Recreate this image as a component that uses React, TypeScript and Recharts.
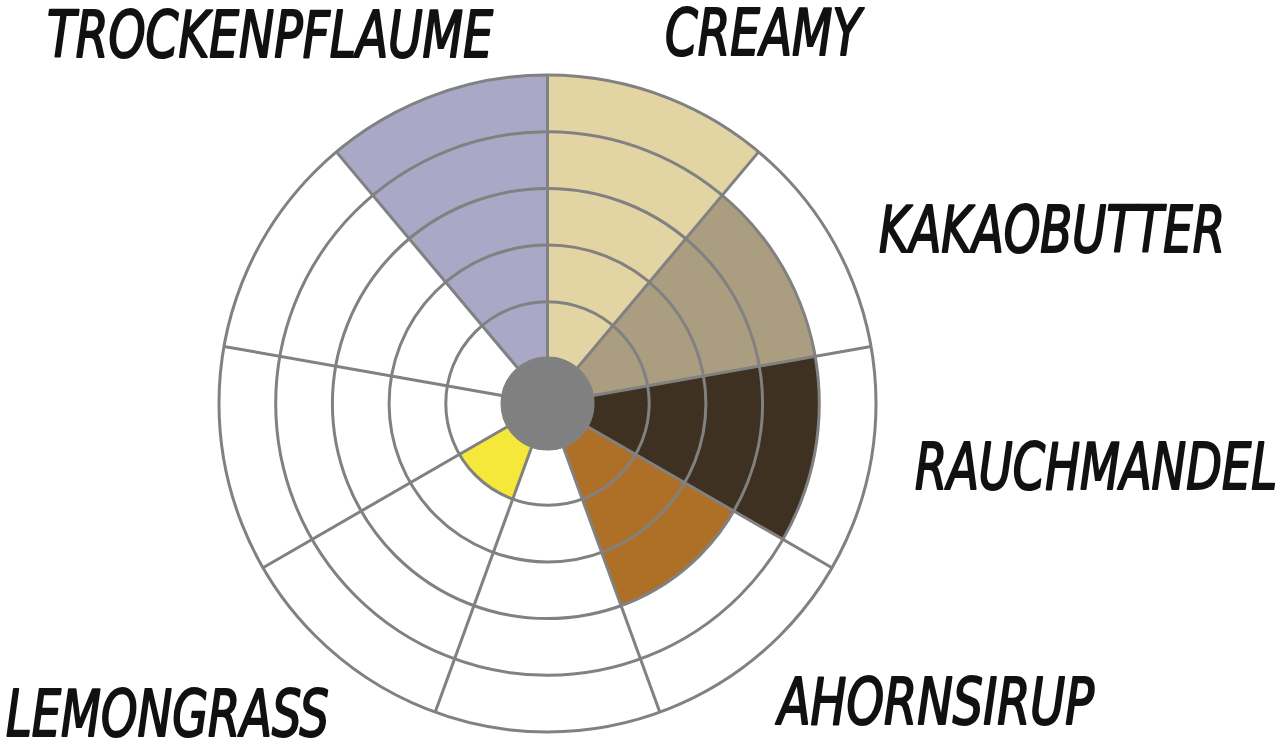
import React from 'react';
import {
  RadialBarChart,
  RadialBar,
  PolarAngleAxis,
  PolarRadiusAxis,
  PolarGrid,
  Cell,
} from 'recharts';

// Sectors in clockwise order starting at 12 o'clock
const sectorKeys = ['s1', 's2', 's3', 's4', 's5', 's6', 's7', 's8', 's9'];
const sectorLabels = ['CREAMY', 'KAKAOBUTTER', 'RAUCHMANDEL', 'AHORNSIRUP', '', 'LEMONGRASS', '', '', 'TROCKENPFLAUME'];
const sectorValues = [5, 4, 4, 3, 0, 1, 0, 0, 5];
const sectorColors = ['#E3D4A4', '#AB9D7F', '#3F3122', '#AE7027', '#FFFFFF', '#F6E83A', '#FFFFFF', '#FFFFFF', '#A9A8C6'];
const radiusTicks = [0, 1, 2, 3, 4, 5];

const data = sectorKeys.map((key, i) => ({
  key,
  name: sectorLabels[i],
  value: sectorValues[i],
  color: sectorColors[i],
}));

const CX = 547.5;
const CY = 403.5;
const INNER = 45;
const OUTER = 328.5;
const TOP = 90;
const n = sectorKeys.length;
const STEP = 360 / n;
// Recharts draws each centric bar from its band coordinate onward, so shift the band range by one step
const START = TOP - STEP;
const END = START - 360;
const GRID = '#818181';

const labelPlacement: Record<string, { x: number; y: number; w: number }> = {
  TROCKENPFLAUME: { x: 47, y: 57, w: 446 },
  CREAMY: { x: 665, y: 55, w: 196 },
  KAKAOBUTTER: { x: 879, y: 252, w: 346 },
  RAUCHMANDEL: { x: 915, y: 489, w: 362 },
  AHORNSIRUP: { x: 778, y: 724, w: 316 },
  LEMONGRASS: { x: 6, y: 736, w: 323 },
};

const LabelTick = (props: any) => {
  const idx = props?.payload?.index ?? sectorKeys.indexOf(props?.payload?.value);
  const name = sectorLabels[idx];
  const p = name ? labelPlacement[name] : undefined;
  if (!p) return <g />;
  return (
    <text
      x={p.x}
      y={p.y}
      textLength={p.w}
      lengthAdjust="spacingAndGlyphs"
      fontFamily="'DejaVu Sans Condensed', 'DejaVu Sans', sans-serif"
      fontStyle="italic"
      fontSize={64}
      fill="#111111"
      stroke="#111111"
      strokeWidth={2}
      strokeLinejoin="round"
      textAnchor="start"
    >
      {name}
    </text>
  );
};

const gridAngles = sectorKeys.map((_, i) => TOP - i * STEP);
const gridRadii = radiusTicks.map((t) => INNER + ((OUTER - INNER) * t) / radiusTicks[radiusTicks.length - 1]);

const chartProps = {
  width: 1280,
  height: 755,
  cx: CX,
  cy: CY,
  innerRadius: INNER,
  outerRadius: OUTER,
  startAngle: START,
  endAngle: END,
  data,
  layout: 'centric' as const,
  barCategoryGap: 0,
  barGap: 0,
  margin: { top: 0, right: 0, bottom: 0, left: 0 },
};

const css = `
.grid-top svg line,
.grid-top svg circle,
.grid-top svg path { stroke: ${GRID} !important; stroke-width: 3px !important; }
`;

export default function App() {
  return (
    <div style={{ position: 'absolute', left: 0, top: 0, width: 1280, height: 755, background: '#ffffff' }}>
      <style>{css}</style>
      <div style={{ position: 'absolute', left: 0, top: 0 }}>
        <RadialBarChart {...chartProps}>
          <PolarAngleAxis type="category" dataKey="key" axisLine={false} tickLine={false} tick={false} />
          <PolarRadiusAxis type="number" domain={[0, 5]} ticks={radiusTicks} tick={false} axisLine={false} />
          <RadialBar dataKey="value" isAnimationActive={false}>
            {data.map((d) => (
              <Cell key={d.key} fill={d.color} />
            ))}
          </RadialBar>
        </RadialBarChart>
      </div>
      <div className="grid-top" style={{ position: 'absolute', left: 0, top: 0 }}>
        <RadialBarChart {...chartProps}>
          <PolarAngleAxis
            type="category"
            dataKey="key"
            axisLine={false}
            tickLine={false}
            tick={<LabelTick />}
          />
          <PolarRadiusAxis type="number" domain={[0, 5]} ticks={radiusTicks} tick={false} axisLine={false} />
          <PolarGrid
            gridType="circle"
            polarAngles={gridAngles}
            polarRadius={gridRadii}
            stroke={GRID}
            strokeWidth={3}
          />
          <circle cx={CX} cy={CY} r={45.5} fill="#808080" />
        </RadialBarChart>
      </div>
    </div>
  );
}
